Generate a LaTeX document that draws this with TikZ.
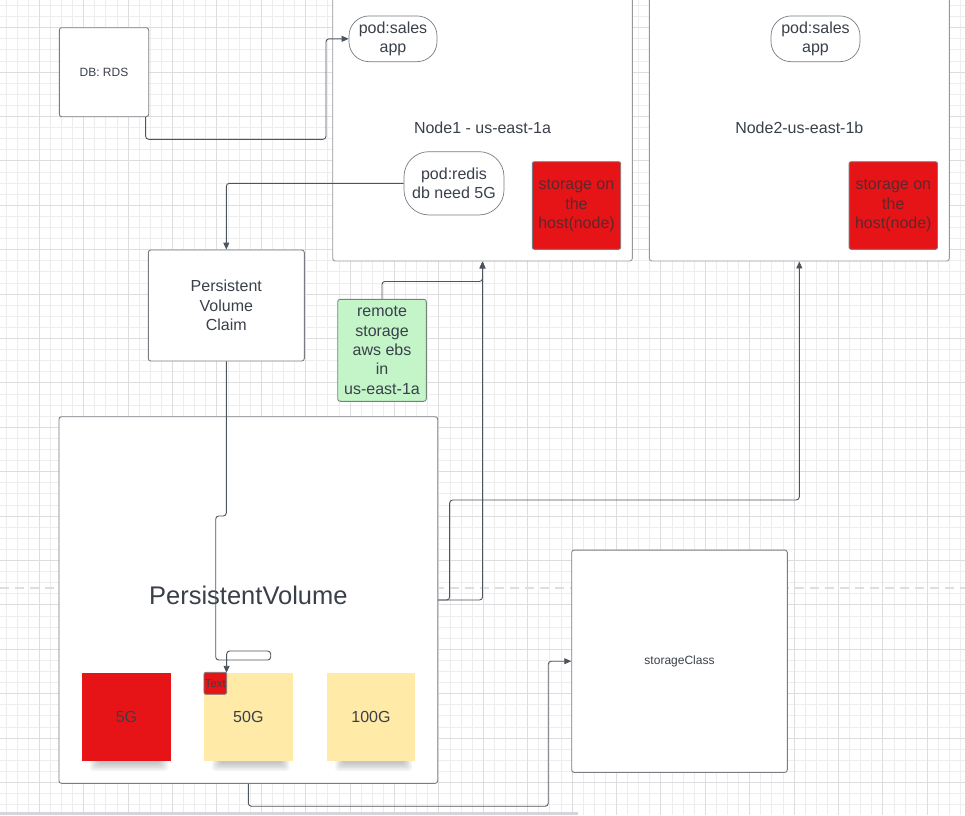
\documentclass[tikz,border=0pt]{standalone}
\usepackage{fontspec}
\setmainfont{Liberation Sans}
\usetikzlibrary{arrows.meta,calc}
\definecolor{txt}{RGB}{58,64,74}
\definecolor{bord}{RGB}{120,124,130}
\definecolor{lightbord}{RGB}{150,152,158}
\definecolor{conncol}{RGB}{78,84,94}
\definecolor{gridminor}{RGB}{237,237,237}
\definecolor{gridmajor}{RGB}{221,221,223}
\definecolor{redfill}{RGB}{230,20,22}
\definecolor{redtxt}{RGB}{95,38,45}
\definecolor{greenfill}{RGB}{195,245,200}
\definecolor{greenbord}{RGB}{115,135,120}
\definecolor{stickyfill}{RGB}{255,234,167}
\definecolor{dashcol}{RGB}{222,222,222}
\definecolor{bandcol}{RGB}{214,214,218}
\tikzset{
  box/.style={draw=bord, fill=white, line width=0.9pt, rounded corners=2.5pt, inner sep=0pt,
    align=center, text=txt, font=\fontsize{16}{19.3}\selectfont},
  nodebox/.style={box, draw=lightbord},
  podbox/.style={box, line width=0.7pt, rounded corners=20pt},
  redbox/.style={box, fill=redfill, text=redtxt, rounded corners=2pt},
  greenbox/.style={box, fill=greenfill, draw=greenbord},
  stickybox/.style={inner sep=0pt, align=center, text=txt, font=\fontsize{16}{19.3}\selectfont},
  smalltext/.style={text=txt, font=\fontsize{12}{14}\selectfont},
  conn/.style={draw=conncol, line width=0.9pt, rounded corners=3pt},
  arr/.style={-{Triangle[length=7pt,width=6pt]}},
}
\begin{document}
\begin{tikzpicture}[x=1pt,y=-1pt]
\useasboundingbox (0,0) rectangle (965,815);
\fill[white] (0,0) rectangle (965,815);
% grid
\foreach \gx in {5.9,17.0,...,965} \draw[gridminor, line width=0.8pt] (\gx,0) -- (\gx,815);
\foreach \gy in {5.4,16.5,...,815} \draw[gridminor, line width=0.8pt] (0,\gy) -- (965,\gy);
\foreach \gx in {39.2,83.6,...,965} \draw[gridmajor, line width=0.9pt] (\gx,0) -- (\gx,815);
\foreach \gy in {27.6,72.0,...,815} \draw[gridmajor, line width=0.9pt] (0,\gy) -- (965,\gy);
% page break line and bottom band
\draw[dashcol, line width=2.6pt, dash pattern=on 9pt off 6pt] (0,588) -- (965,588);
\fill[bandcol] (0,811.5) rectangle (578,815);

% nodes (servers)
\node[nodebox, minimum width=299.6pt, minimum height=266pt] (node1) at (482.5,128) {Node1 - us-east-1a};
\node[nodebox, minimum width=300pt, minimum height=266pt] (node2) at (799.3,128) {Node2-us-east-1b};
\node[podbox, minimum width=88pt, minimum height=45.7pt] (pod1) at (393,38.8) {pod:sales\\app};
\node[podbox, minimum width=89pt, minimum height=45.7pt] (pod2) at (815.5,38.8) {pod:sales\\app};
\node[podbox, rounded corners=25pt, minimum width=100pt, minimum height=63.3pt] (redis) at (454,183.3) {pod:redis\\db need 5G};
\node[redbox, minimum width=88.4pt, minimum height=87.6pt] (red1) at (576.5,205.5) {storage on\\the\\host(node)};
\node[redbox, minimum width=88.4pt, minimum height=87.6pt] (red2) at (893.3,205.5) {storage on\\the\\host(node)};

% left side
\node[box, smalltext, minimum width=89.4pt, minimum height=89pt] (db) at (104,72.2) {DB: RDS};
\node[box, minimum width=156pt, minimum height=111pt] (pvc) at (226.3,305.5) {Persistent\\Volume\\Claim};
\node[greenbox, minimum width=88.6pt, minimum height=102pt] (green) at (382,350.3) {remote\\storage\\aws ebs\\in\\us-east-1a};
\node[box, minimum width=378.7pt, minimum height=366.6pt] (pv) at (248.35,600) {};
\node[text=txt, font=\fontsize{25.5}{30}\selectfont, inner sep=0pt, anchor=base] (pvlabel) at (248.35,604) {PersistentVolume};
\node[box, smalltext, minimum width=215.6pt, minimum height=222.3pt] (sc) at (679.5,661.2) {storageClass};

% sticky notes with shadows
\foreach \xa/\xb in {82/171,204/292.7,327/415}{
  \foreach \i in {0,...,5}
    \fill[black, opacity=0.04, rounded corners=3pt] (\xa+8+\i*1.5,745) rectangle (\xb-3-\i*1.5,771-\i*1.5);
}
\node[stickybox, fill=redfill, minimum width=89pt, minimum height=88pt] (g5) at (126.5,717) {5G};
\node[stickybox, fill=stickyfill, minimum width=88.7pt, minimum height=88pt] (g50) at (248.35,717) {50G};
\node[stickybox, fill=stickyfill, minimum width=88pt, minimum height=88pt] (g100) at (371,717) {100G};
\node[draw=bord, fill=redfill, line width=0.8pt, rounded corners=2pt, inner sep=0pt, text=txt,
      font=\fontsize{11.3}{13}\selectfont, minimum width=22.7pt, minimum height=22pt] (tbox) at (215.3,683.3) {Text};

% connectors
\draw[conn, arr] ($(db.south east)+(-3.5,0)$) |- (326,139.3) |- (pod1.west);
\draw[conn, arr] (redis.west) -| (pvc.north);
\draw[conn, arr] (pvc.south) -- (226.3,516) -- (215.7,516) -- (215.7,660) -- (270.7,660)
      -- (270.7,651) -- (226.7,651) -- ($(g50.north west)+(22.7,0)$);
\draw[conn, arr] (green.north) |- ($(node1.south)+(0,20)$) -- (node1.south);
\draw[conn, arr] (pv.east) -| (node1.south);
\draw[conn, arr] (pv.east) -- ++(11.5,0) -- ++(0,-100) -| (node2.south);
\draw[conn, arr] (pv.south) -- ++(0,22.5) -| ($(sc.west)+(-23,0)$) -- (sc.west);
\end{tikzpicture}
\end{document}
